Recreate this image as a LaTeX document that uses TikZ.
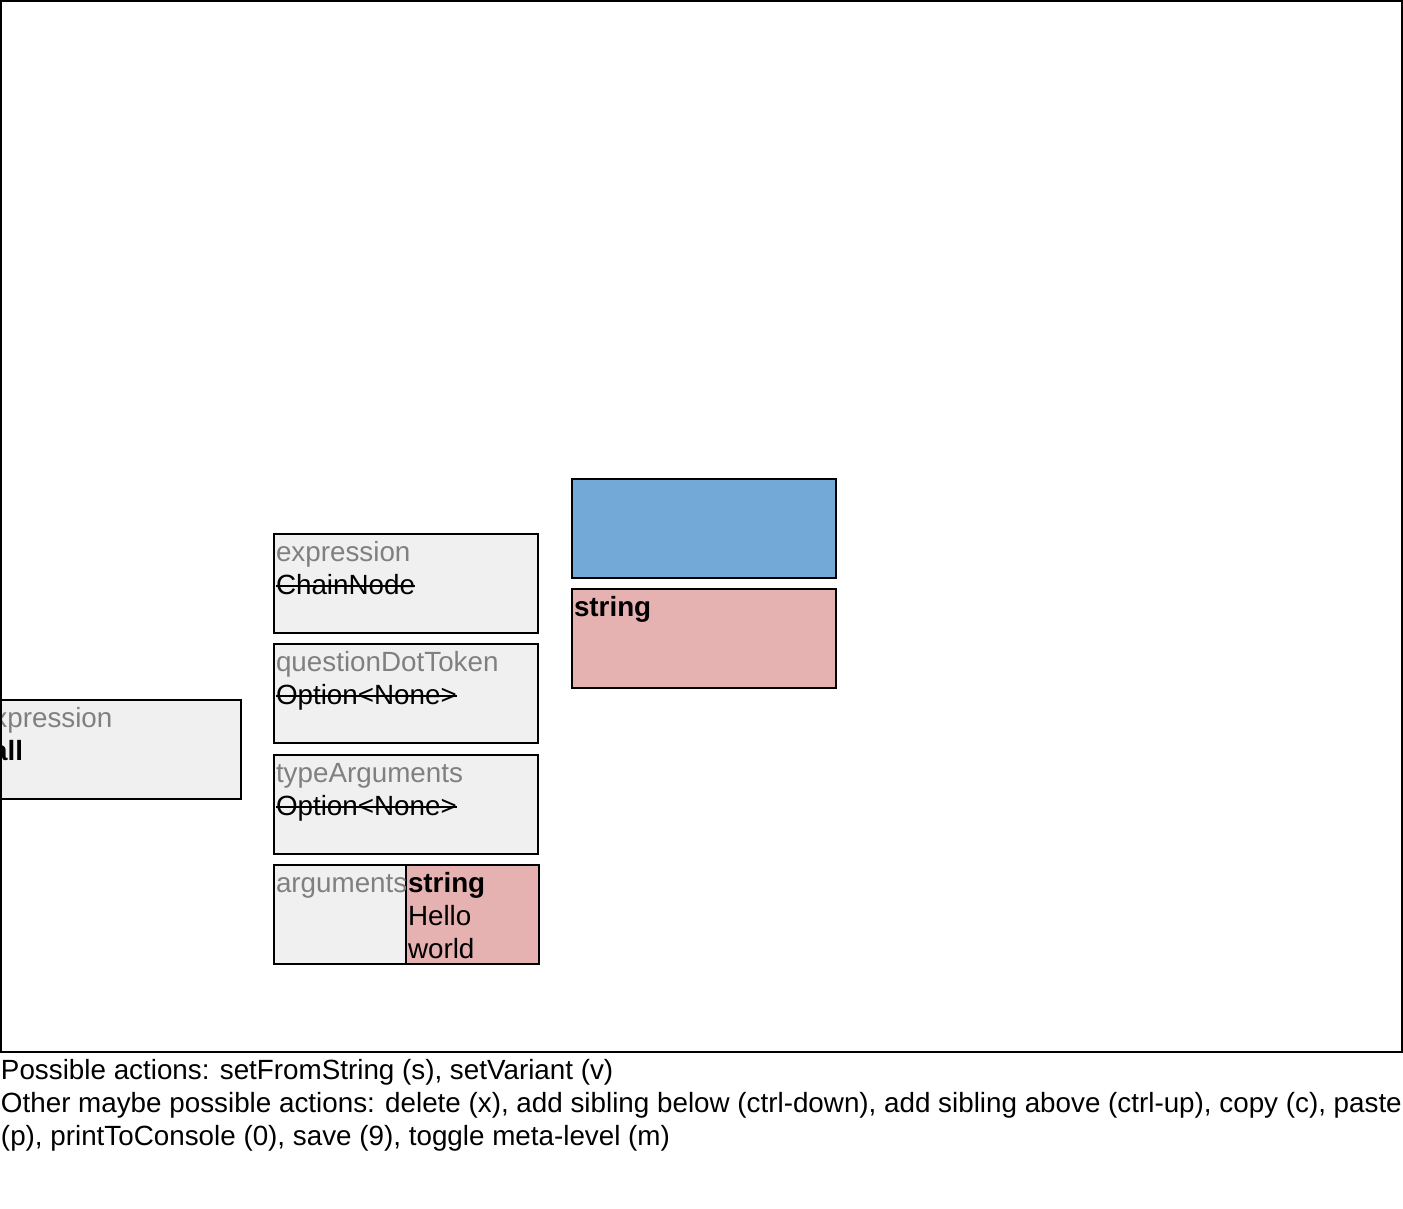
\documentclass[tikz,border=0pt]{standalone}
\usepackage{fontspec}
\setmainfont{Liberation Sans}
\definecolor{cellgrey}{HTML}{F0F0F0}
\definecolor{fieldgrey}{HTML}{808080}
\definecolor{strpink}{HTML}{E6B1B1}
\definecolor{slotblue}{HTML}{73A9D6}
\tikzset{
  cell/.style={draw=black, line width=2pt, fill=cellgrey},
  strcell/.style={draw=black, line width=2pt, fill=strpink},
  bluecell/.style={draw=black, line width=2pt, fill=slotblue},
  txt/.style={anchor=base west, inner sep=0pt, outer sep=0pt, font=\fontsize{27.8}{33}\selectfont},
  field/.style={txt, text=fieldgrey},
  strike/.style={line width=1.8pt},
}
\begin{document}
\begin{tikzpicture}[x=1pt, y=-1pt]
\useasboundingbox (0,0) rectangle (1403,1209);
\fill[white] (0,0) rectangle (1403,1209);

% editor canvas
\begin{scope}
\clip (0,0) rectangle (1403,1053);
% parent node, partly scrolled out of view
\draw[cell] (-30,700) rectangle (241,799);
\node[field] (pexpr) at (-22,727) {expression};
\node[txt] (pcall) at (-28,760) {\bfseries Call};

% field: expression
\draw[cell] (274,534) rectangle (538,633);
\node[field] (f1) at (276,561) {expression};
\node[txt] (v1) at (276,594) {ChainNode};
\draw[strike] ([yshift=8pt]v1.base west) -- ([yshift=8pt]v1.base east);

% field: questionDotToken
\draw[cell] (274,644) rectangle (538,743);
\node[field] (f2) at (276,671) {questionDotToken};
\node[txt] (v2) at (276,704) {Option<None>};
\draw[strike] ([yshift=8pt]v2.base west) -- ([yshift=8pt]v2.base east);

% field: typeArguments
\draw[cell] (274,755) rectangle (538,854);
\node[field] (f3) at (276,782) {typeArguments};
\node[txt] (v3) at (276,815) {Option<None>};
\draw[strike] ([yshift=8pt]v3.base west) -- ([yshift=8pt]v3.base east);

% field: arguments with its string element
\draw[cell] (274,865) rectangle (539,964);
\draw[strcell] (406,865) rectangle (539,964);
\node[field] (f4) at (276,892) {arguments};
\node[txt] (s1) at (408,892) {\bfseries string};
\node[txt] (s2) at (408,925) {Hello};
\node[txt] (s3) at (408,958) {world};

% cursor slot and string preview
\draw[bluecell] (572,479) rectangle (836,578);
\draw[strcell] (572,589) rectangle (836,688);
\node[txt] (s4) at (574,616) {\bfseries string};
\end{scope}
\draw[line width=2pt] (1,1) rectangle (1402,1052);

% status lines
\node[txt] (l1) at (1,1079) {Possible actions: setFromString (s), setVariant (v)};
\node[txt] (l2) at (1,1112) {Other maybe possible actions: delete (x), add sibling below (ctrl-down), add sibling above (ctrl-up), copy (c), paste};
\node[txt] (l3) at (1,1145) {(p), printToConsole (0), save (9), toggle meta-level (m)};
\end{tikzpicture}
\end{document}
